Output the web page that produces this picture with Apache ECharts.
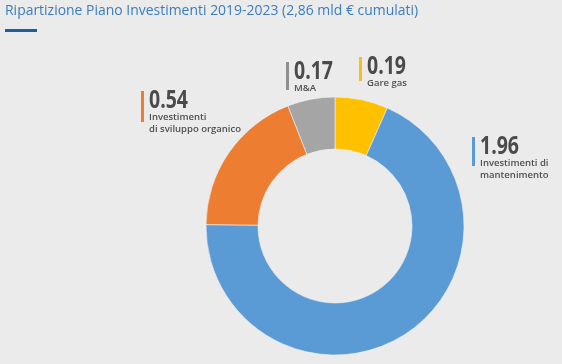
<!DOCTYPE html>
<html><head><meta charset="utf-8">
<script src="https://cdn.jsdelivr.net/npm/echarts@6/dist/echarts.min.js"></script>
<style>html,body{margin:0;padding:0;background:#ebebeb}#c{width:562px;height:364px}</style>
</head><body><div id="c"></div>
<script>
const categories = ['Gare gas', 'Investimenti di\nmantenimento', 'Investimenti\ndi sviluppo organico', 'M&A'];
const values = [0.19, 1.96, 0.54, 0.17];
const colors = ['#ffc000', '#5b9bd5', '#ed7d31', '#a5a5a5'];
const barColors = ['#f5c01a', '#5b9bd5', '#ed7d31', '#8f8f8f'];
const titleText = 'Ripartizione Piano Investimenti 2019-2023 (2,86 mld € cumulati)';

// label anchor positions (layout)
const labelPos = [
  {x: 359, y: 57, h: 24},
  {x: 472, y: 137, h: 29},
  {x: 141, y: 91, h: 31},
  {x: 286, y: 62, h: 28}
];

const chart = echarts.init(document.getElementById('c'), null, {renderer: 'canvas'});
const graphics = [
  {type: 'text', left: 5, top: 3, scaleX: 0.93, style: {text: titleText, fill: '#3a7dc0', font: '15px "Open Sans"'}},
  {type: 'rect', shape: {x: 5, y: 29, width: 32, height: 3}, style: {fill: '#1f5d9c'}}
];
categories.forEach((c, i) => {
  const p = labelPos[i];
  graphics.push({type: 'rect', shape: {x: p.x, y: p.y, width: 3, height: p.h}, style: {fill: barColors[i]}});
  graphics.push({type: 'text', x: p.x + 8, y: p.y - 3, scaleX: 0.78,
    style: {text: values[i].toFixed(2), fill: '#4a4a4a', font: 'bold 25px "Open Sans"'}});
  graphics.push({type: 'text', x: p.x + 8, y: p.y + 20,
    style: {text: c, fill: '#4f4f4f', font: '600 9.5px "Open Sans"', lineHeight: 12}});
});

chart.setOption({
  backgroundColor: '#ebebeb',
  animation: false,
  graphic: graphics,
  series: [{
    type: 'pie',
    center: [335, 226],
    radius: [77, 129],
    startAngle: 90,
    clockwise: true,
    label: {show: false},
    labelLine: {show: false},
    emphasis: {disabled: true},
    itemStyle: {borderColor: '#f2f2f2', borderWidth: 0.6},
    data: categories.map((c, i) => ({name: c, value: values[i], itemStyle: {color: colors[i]}}))
  }]
});
</script></body></html>
